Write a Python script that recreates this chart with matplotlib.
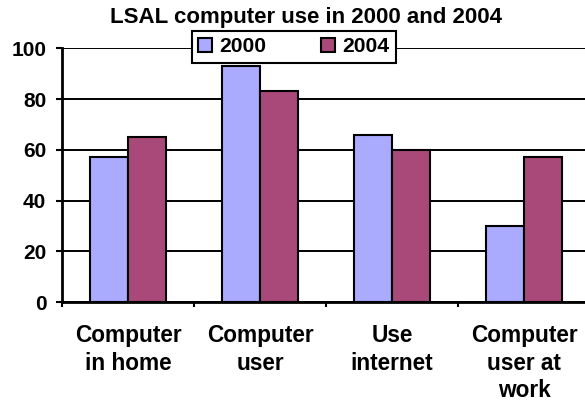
import numpy as np
import matplotlib
matplotlib.use("Agg")
import matplotlib.pyplot as plt

plt.rcParams['font.family'] = ['Liberation Sans', 'DejaVu Sans']
plt.rcParams['font.weight'] = 'bold'

categories = ["Computer\nin home", "Computer\nuser", "Use\ninternet", "Computer\nuser at\nwork"]
series_names = ["2000", "2004"]
vals_2000 = [57, 93, 66, 30]
vals_2004 = [65, 83, 60, 57]
y_ticks = [0, 20, 40, 60, 80, 100]

col_2000 = "#AAAAFF"
col_2004 = "#A8497A"

fig = plt.figure(figsize=(5.85, 4.05), dpi=100)
# plot area runs a bit past the right edge, like the source image
ax = fig.add_axes([62 / 585, 1 - 302 / 405, 528 / 585, (302 - 48.3) / 405])

x = np.arange(len(categories))
w = 0.288
ax.bar(x - w / 2, vals_2000, w, color=col_2000, edgecolor="black", linewidth=1.5, label=series_names[0], zorder=3)
ax.bar(x + w / 2, vals_2004, w, color=col_2004, edgecolor="black", linewidth=1.5, label=series_names[1], zorder=3)

ax.set_xlim(-0.5, len(categories) - 0.5)
ax.set_ylim(0, 100)
ax.set_yticks(y_ticks)
ax.set_yticklabels([str(t) for t in y_ticks], fontsize=15, fontweight="bold")
ax.yaxis.grid(True, color="black", linewidth=1.4, zorder=0)
ax.set_axisbelow(True)

# category boundaries as major ticks, labels on minor ticks
ax.set_xticks(np.arange(len(categories) + 1) - 0.5)
ax.set_xticklabels([])
ax.set_xticks(x, minor=True)
ax.set_xticklabels(categories, minor=True, fontsize=16.3, fontweight="bold", linespacing=1.25, va="top")
ax.tick_params(axis="x", which="major", length=3.6, width=1.5, direction="out")
ax.tick_params(axis="x", which="minor", length=0, pad=16)
ax.tick_params(axis="y", length=4.3, width=1.5, direction="out", pad=7)

for s in ["top", "right"]:
    ax.spines[s].set_visible(False)
for s in ["left", "bottom"]:
    ax.spines[s].set_linewidth(2)
    ax.spines[s].set_color("black")

fig.text(306.5 / 585, 1 - 17 / 405, "LSAL computer use in 2000 and 2004", ha="center", va="center",
         fontsize=16, fontweight="bold")

leg = ax.legend(loc="center", bbox_to_anchor=(294 / 585, 1 - 47 / 405), bbox_transform=fig.transFigure,
                ncol=2, fontsize=15.2, frameon=True, fancybox=False, handlelength=0.65, handleheight=0.65,
                handletextpad=0.35, columnspacing=2.6, borderpad=0.3, borderaxespad=0)
leg.get_frame().set_edgecolor("black")
leg.get_frame().set_linewidth(1.5)
leg.get_frame().set_alpha(1)
leg.set_zorder(10)

fig.savefig("out.png", dpi=100)
